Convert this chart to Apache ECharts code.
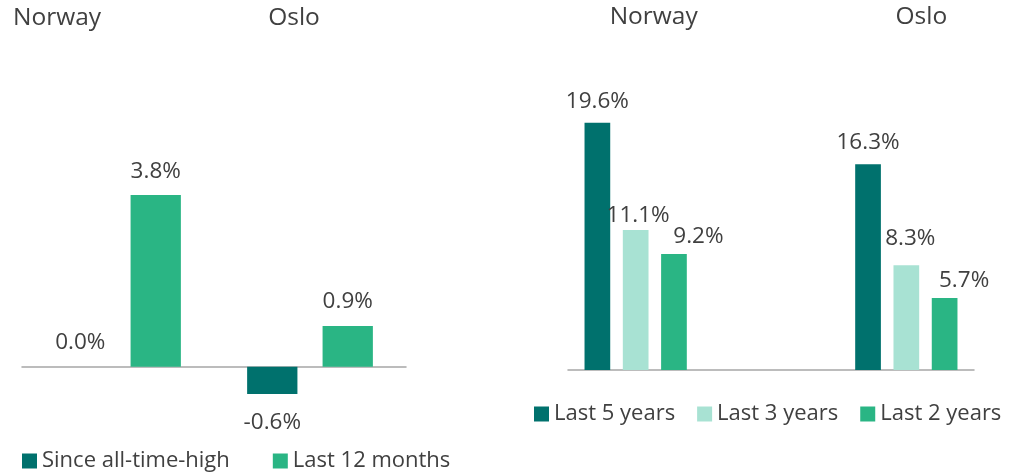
<!DOCTYPE html>
<html>
<head>
<meta charset="utf-8">
<script src="https://cdn.jsdelivr.net/npm/echarts@6/dist/echarts.min.js"></script>
<style>
  html, body { margin: 0; padding: 0; background: #ffffff; }
  #chart { width: 1016px; height: 474px; }
</style>
</head>
<body>
<div id="chart"></div>
<script>
// Categories shown in both panels
const regions = ['Norway', 'Oslo'];

// Left panel: price change since all-time-high and over the last 12 months (%)
const sinceAllTimeHigh = [0.0, -0.6];
const last12Months = [3.8, 0.9];

// Right panel: price growth over longer periods (%)
const last5Years = [19.6, 16.3];
const last3Years = [11.1, 8.3];
const last2Years = [9.2, 5.7];

const leftSeriesNames = ['Since all-time-high', 'Last 12 months'];
const rightSeriesNames = ['Last 5 years', 'Last 3 years', 'Last 2 years'];

// Styling
const FONT = 'Open Sans';
const TEXT = '#404040';
const TEAL = '#00716D';
const GREEN = '#2AB584';
const MINT = '#A8E2D3';
const AXIS = '#A6A6A6';
const LABEL_SIZE = 22.5;
const LABEL_LH = 23;

// Label placement tweaks: [dx, height of label centre above bar end]
const leftNudge = [[[0, 24], [0, 29]], [[0, 23.5], [0, 25]]];
const rightNudge = [
  [[0, 21.5], [0, 22]],
  [[2.5, 14], [4, 27]],
  [[24.5, 17.3], [19.5, 17.7]]
];

const pct = v => v.toFixed(1) + '%';

// Right panel keeps an empty slot between the two regions
const rightAxisCats = [regions[0], '', regions[1]];

function leftData(values, nudges) {
  return values.map((v, i) => {
    const [dx, above] = nudges[i];
    const neg = v < 0;
    return {
      value: v,
      label: {
        position: neg ? 'bottom' : 'top',
        offset: [dx, neg ? (above - LABEL_LH / 2) : -(above - LABEL_LH / 2)]
      }
    };
  });
}

function rightData(values, nudges) {
  const items = values.map((v, i) => {
    const [dx, above] = nudges[i];
    return { value: v, label: { position: 'top', offset: [dx, -(above - LABEL_LH / 2)] } };
  });
  return [items[0], null, items[1]];
}

const labelStyle = {
  show: true,
  distance: 0,
  fontFamily: FONT,
  fontSize: LABEL_SIZE,
  lineHeight: LABEL_LH,
  color: TEXT,
  formatter: p => pct(p.value)
};

function topLabels(shifts) {
  const rich = {};
  shifts.forEach((s, i) => {
    rich['c' + i] = {
      fontFamily: FONT, fontSize: 24.5, color: TEXT,
      padding: s < 0 ? [0, -2 * s, 0, 0] : [0, 0, 0, 2 * s]
    };
  });
  return rich;
}

const legendText = { fontFamily: FONT, fontSize: 22, color: TEXT };

const chart = echarts.init(document.getElementById('chart'), null, { renderer: 'canvas' });

chart.setOption({
  animation: false,
  textStyle: { fontFamily: FONT, color: TEXT },
  grid: [
    { left: 22, width: 384, top: 186, height: 226 },
    { left: 568, width: 406, top: 117.6, height: 252.4 }
  ],
  xAxis: [
    {
      type: 'category', gridIndex: 0, data: regions,
      axisLine: { show: true, onZero: true, lineStyle: { color: AXIS, width: 1.5 } },
      axisTick: { show: false }, axisLabel: { show: false }
    },
    {
      type: 'category', gridIndex: 0, data: regions, position: 'top',
      axisLine: { show: false }, axisTick: { show: false },
      axisLabel: {
        margin: 168, verticalAlign: 'middle',
        formatter: (v, i) => '{c' + i + '|' + v + '}',
        rich: topLabels([-61, -16])
      }
    },
    {
      type: 'category', gridIndex: 1, data: rightAxisCats,
      axisLine: { show: true, onZero: true, lineStyle: { color: AXIS, width: 1.5 } },
      axisTick: { show: false }, axisLabel: { show: false }
    },
    {
      type: 'category', gridIndex: 1, data: rightAxisCats, position: 'top',
      axisLine: { show: false }, axisTick: { show: false },
      axisLabel: {
        margin: 101, verticalAlign: 'middle', interval: 0,
        formatter: (v, i) => v ? '{c' + i + '|' + v + '}' : '',
        rich: topLabels([18, 0, 15])
      }
    }
  ],
  yAxis: [
    { type: 'value', gridIndex: 0, min: -1, max: 4, show: false },
    { type: 'value', gridIndex: 1, min: 0, max: 20, show: false }
  ],
  legend: [
    {
      data: leftSeriesNames, left: 22, top: 450, padding: 0,
      icon: 'rect', itemWidth: 15, itemHeight: 15, itemGap: 43,
      textStyle: legendText
    },
    {
      data: rightSeriesNames, left: 534, top: 403, padding: 0,
      icon: 'rect', itemWidth: 15, itemHeight: 15, itemGap: 22,
      textStyle: legendText
    }
  ],
  series: [
    {
      name: leftSeriesNames[0], type: 'bar', xAxisIndex: 0, yAxisIndex: 0,
      barWidth: 50.3, barGap: '50%', itemStyle: { color: TEAL },
      label: labelStyle, data: leftData(sinceAllTimeHigh, leftNudge[0])
    },
    {
      name: leftSeriesNames[1], type: 'bar', xAxisIndex: 0, yAxisIndex: 0,
      barWidth: 50.3, barGap: '50%', itemStyle: { color: GREEN },
      label: labelStyle, data: leftData(last12Months, leftNudge[1])
    },
    {
      name: rightSeriesNames[0], type: 'bar', xAxisIndex: 2, yAxisIndex: 1,
      barWidth: 25.7, barGap: '49%', itemStyle: { color: TEAL },
      label: labelStyle, data: rightData(last5Years, rightNudge[0])
    },
    {
      name: rightSeriesNames[1], type: 'bar', xAxisIndex: 2, yAxisIndex: 1,
      barWidth: 25.7, barGap: '49%', itemStyle: { color: MINT },
      label: labelStyle, data: rightData(last3Years, rightNudge[1])
    },
    {
      name: rightSeriesNames[2], type: 'bar', xAxisIndex: 2, yAxisIndex: 1,
      barWidth: 25.7, barGap: '49%', itemStyle: { color: GREEN },
      label: labelStyle, data: rightData(last2Years, rightNudge[2])
    }
  ]
});
</script>
</body>
</html>
